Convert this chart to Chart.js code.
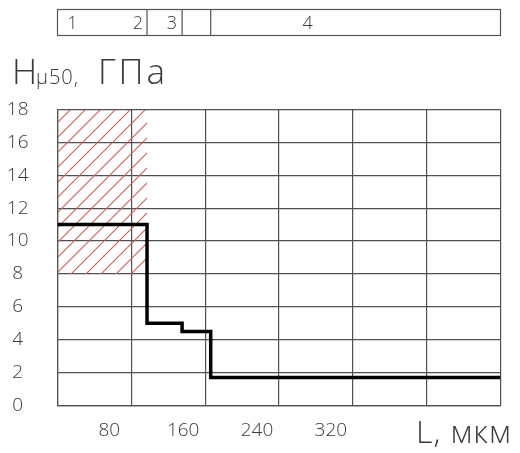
<!DOCTYPE html>
<html>
<head>
<meta charset="utf-8">
<script src="https://cdn.jsdelivr.net/npm/chart.js@4/dist/chart.umd.min.js"></script>
<style>
  body { margin: 0; background: #fff; }
  #wrap { width: 520px; height: 453px; }
</style>
</head>
<body>
<div id="wrap"><canvas id="chart" width="520" height="453"></canvas></div>
<script>
// step curve: L (мкм) where level changes, level values H (ГПа)
const stepX = [0, 97, 135, 166, 480];
const stepH = [11, 5, 4.5, 1.7, 1.7];

// hatched zone
const zoneX = [0, 97];
const zoneLow = 8;
const zoneHigh = 18;

// top band: zone dividers and labels
const bandEdges = [0, 97, 135, 166, 480];
const bandLabels = ['1', '2', '3', '4'];
const bandLabelAt = [16, 87, 124, 271];

// axes
const xTicksShown = [80, 160, 240, 320];
const xMax = 480;
const yMax = 18;

const FONT = '"Open Sans", "DejaVu Sans", sans-serif';
const INK = '#3a3a3a';
const GRID = '#505050';

function hatchPattern() {
    const s = 15;
    const c = document.createElement('canvas');
    c.width = s; c.height = s;
    const g = c.getContext('2d');
    g.strokeStyle = 'rgb(205, 95, 85)';
    g.lineWidth = 1.1;
    g.beginPath();
    g.moveTo(-1, s + 1); g.lineTo(s + 1, -1);
    g.moveTo(-1, 1); g.lineTo(1, -1);
    g.moveTo(s - 1, s + 1); g.lineTo(s + 1, s - 1);
    g.stroke();
    return g.createPattern(c, 'repeat');
}

const decor = {
    id: 'decor',
    afterDraw(chart) {
        const ctx = chart.ctx;
        const x = chart.scales.x;
        ctx.save();

        // band above chart
        const top = 9.5, bot = 35.5;
        const px = bandEdges.map(v => x.getPixelForValue(v));
        ctx.strokeStyle = '#555';
        ctx.lineWidth = 1.2;
        ctx.strokeRect(px[0], top, px[px.length - 1] - px[0], bot - top);
        ctx.beginPath();
        for (let i = 1; i < px.length - 1; i++) {
            ctx.moveTo(px[i], top);
            ctx.lineTo(px[i], bot);
        }
        ctx.stroke();
        ctx.fillStyle = INK;
        ctx.font = '300 18px ' + FONT;
        ctx.textAlign = 'center';
        ctx.textBaseline = 'middle';
        bandLabels.forEach((t, i) => {
            ctx.fillText(t, x.getPixelForValue(bandLabelAt[i]), (top + bot) / 2 + 1);
        });

        // y title  H(μ50), ГПа
        ctx.textAlign = 'left';
        ctx.textBaseline = 'alphabetic';
        ctx.font = '300 35px ' + FONT;
        ctx.fillText('H', 12, 84);
        ctx.font = '300 20px ' + FONT;
        ctx.letterSpacing = '1px';
        ctx.fillText('μ50,', 36, 84);
        ctx.letterSpacing = '3px';
        ctx.font = '300 35px ' + FONT;
        ctx.fillText('ГПа', 98, 84);

        // x title
        ctx.letterSpacing = '1px';
        ctx.font = '300 32px ' + FONT;
        ctx.fillText('L, мкм', 416, 443);
        ctx.restore();
    }
};

new Chart(document.getElementById('chart'), {
    type: 'line',
    data: {
        datasets: [
            {
                data: zoneX.map(v => ({ x: v, y: zoneHigh })),
                borderWidth: 0,
                pointRadius: 0,
                backgroundColor: hatchPattern(),
                fill: { value: zoneLow },
                order: 2
            },
            {
                data: stepX.map((v, i) => ({ x: v, y: stepH[i] })),
                stepped: true,
                borderColor: '#000',
                borderWidth: 3.5,
                pointRadius: 0,
                fill: false,
                order: 1
            }
        ]
    },
    options: {
        responsive: false,
        animation: false,
        layout: { padding: { top: 109.5, right: 19.5, left: 0, bottom: 0 } },
        plugins: {
            legend: { display: false },
            tooltip: { enabled: false }
        },
        scales: {
            x: {
                type: 'linear',
                min: 0,
                max: xMax,
                grid: { color: GRID, lineWidth: 1.2, drawTicks: false },
                border: { color: GRID, width: 1.2 },
                afterFit(scale) { scale.height = 47.5; },
                ticks: {
                    stepSize: 80,
                    padding: 14,
                    labelOffset: -22,
                    color: INK,
                    font: { family: FONT, size: 19, weight: 300 },
                    callback: v => xTicksShown.includes(v) ? String(v) : ''
                }
            },
            y: {
                min: 0,
                max: yMax,
                grid: { color: GRID, lineWidth: 1.2, drawTicks: false },
                border: { color: GRID, width: 1.2 },
                afterFit(scale) { scale.width = 57.5; },
                ticks: {
                    stepSize: 2,
                    padding: 29,
                    crossAlign: 'center',
                    color: INK,
                    font: { family: FONT, size: 19, weight: 300 }
                }
            }
        }
    },
    plugins: [decor]
});
</script>
</body>
</html>
